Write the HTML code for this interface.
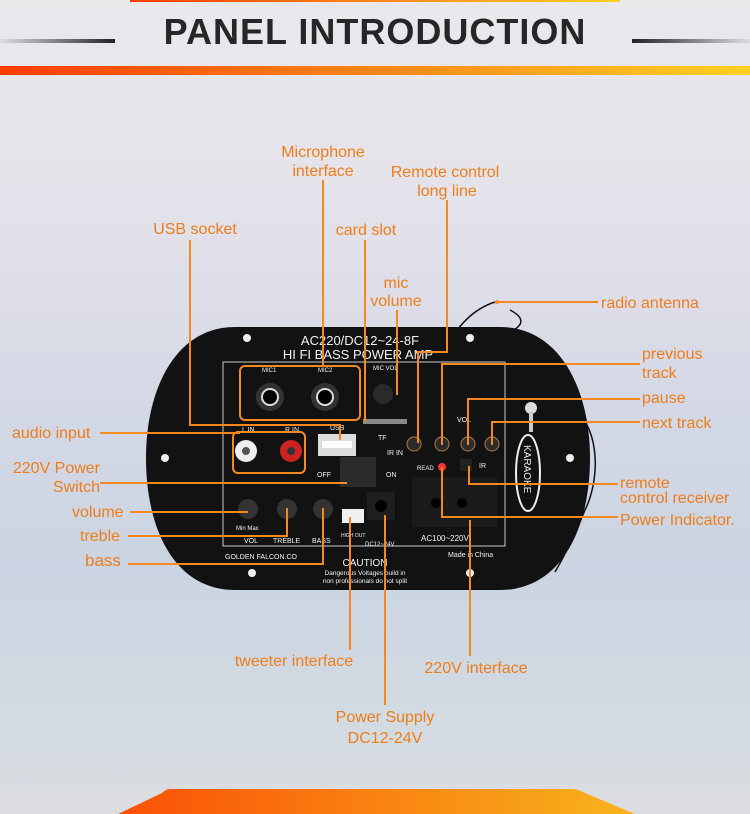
<!DOCTYPE html>
<html><head><meta charset="utf-8"><style>
html,body{margin:0;padding:0;}
body{width:750px;height:814px;overflow:hidden;position:relative;font-family:"Liberation Sans",sans-serif;
background:linear-gradient(180deg,#ebe8ec 0%,#e4e2ea 25%,#d4d8e6 50%,#cbd4e2 70%,#d3dbe2 90%,#dcdde0 100%);}
svg{position:absolute;left:0;top:0;}
.t{fill:#f07d1a;font-family:"Liberation Sans",sans-serif;font-size:16px;}
</style></head><body>
<svg width="750" height="814" viewBox="0 0 750 814">
<defs>
<linearGradient id="og" x1="0" x2="1"><stop offset="0" stop-color="#ff3c00"/><stop offset="0.5" stop-color="#f8861a"/><stop offset="1" stop-color="#fcd022"/></linearGradient>
<linearGradient id="ob" x1="0" x2="1"><stop offset="0" stop-color="#fb5006"/><stop offset="1" stop-color="#f8b41c"/></linearGradient>
<linearGradient id="ll" x1="0" x2="1"><stop offset="0" stop-color="#ddd"/><stop offset="1" stop-color="#222"/></linearGradient>
<linearGradient id="lr" x1="0" x2="1"><stop offset="0" stop-color="#222"/><stop offset="1" stop-color="#ddd"/></linearGradient>
</defs>
<rect x="130" y="0" width="490" height="2" fill="url(#og)"/>
<rect x="0" y="39" width="115" height="4" fill="url(#ll)"/>
<rect x="632" y="39" width="118" height="4" fill="url(#lr)"/>
<text x="375" y="44" text-anchor="middle" font-size="36" font-weight="bold" fill="#262626" font-family="Liberation Sans" letter-spacing="1">PANEL INTRODUCTION</text>
<rect x="0" y="66" width="750" height="9" fill="url(#og)"/>
<text x="10" y="778" font-size="30" fill="#d6dde2" font-family="Liberation Serif">golden falcon.co</text>
<path d="M170 789 L572 789 Q578 789 585 793 L635 814 L118 814 L162 793 Q166 789 170 789Z" fill="url(#ob)"/>

<path d="M495 302 C470 310 455 330 445 350 C440 360 470 340 500 335 C520 330 530 320 510 310" fill="none" stroke="#111" stroke-width="1.5"/>
<path d="M575 410 C600 430 600 480 585 510 C575 535 562 560 555 572" fill="none" stroke="#111" stroke-width="1.5"/>
<path d="M235 327 L500 327 C560 327 590 390 590 458 C590 530 560 590 500 590 L235 590 C175 590 146 530 146 458 C146 390 175 327 235 327Z" fill="#121212"/>
<rect x="223" y="362" width="282" height="184" fill="none" stroke="#ccc" stroke-width="1"/>
<g fill="#f2f2f2" font-family="Liberation Sans">
<text x="360" y="345" text-anchor="middle" font-size="13">AC220/DC12~24-8F</text>
<text x="358" y="359" text-anchor="middle" font-size="13">HI FI BASS POWER AMP</text>
<text x="262" y="372" font-size="6">MIC1</text><text x="318" y="372" font-size="6">MIC2</text>
<text x="373" y="370" font-size="6">MIC VOL</text>
<text x="242" y="432" font-size="7">L IN</text><text x="285" y="432" font-size="7">R IN</text><text x="330" y="430" font-size="7">USB</text>
<text x="378" y="440" font-size="7">TF</text><text x="387" y="455" font-size="7">IR IN</text>
<text x="317" y="477" font-size="7">OFF</text><text x="386" y="477" font-size="7">ON</text>
<text x="417" y="470" font-size="6">READ</text><text x="479" y="468" font-size="7">IR</text>
<text x="457" y="422" font-size="7">VOL</text>
<text x="236" y="530" font-size="6">Min  Max</text>
<text x="244" y="543" font-size="7">VOL</text><text x="273" y="543" font-size="7">TREBLE</text><text x="312" y="543" font-size="7">BASS</text>
<text x="341" y="537" font-size="5">HIGH OUT</text><text x="365" y="546" font-size="6">DC12~24V</text>
<text x="421" y="541" font-size="8">AC100~220V</text>
<text x="448" y="557" font-size="7">Made in China</text>
<text x="225" y="559" font-size="7">GOLDEN FALCON.CO</text>
<text x="365" y="566" text-anchor="middle" font-size="10">CAUTION</text>
<text x="365" y="575" text-anchor="middle" font-size="6.5">Dangerous Voltages build in</text>
<text x="365" y="583" text-anchor="middle" font-size="6.5">non professionals do not split</text>
</g>
<g fill="#eee">
<circle cx="247" cy="338" r="4"/><circle cx="470" cy="338" r="4"/><circle cx="165" cy="458" r="4"/><circle cx="570" cy="458" r="4"/><circle cx="252" cy="573" r="4"/><circle cx="470" cy="573" r="4"/>
</g>
<circle cx="270" cy="397" r="14" fill="#333"/><circle cx="270" cy="397" r="9" fill="#ddd"/><circle cx="270" cy="397" r="7" fill="#000"/>
<circle cx="325" cy="397" r="14" fill="#333"/><circle cx="325" cy="397" r="9" fill="#ddd"/><circle cx="325" cy="397" r="7" fill="#000"/>
<circle cx="246" cy="451" r="11" fill="#eee"/><circle cx="246" cy="451" r="4" fill="#555"/>
<circle cx="291" cy="451" r="11" fill="#c22"/><circle cx="291" cy="451" r="4" fill="#333"/>
<rect x="318" y="434" width="38" height="22" fill="#ddd"/><rect x="322" y="441" width="30" height="7" fill="#fff"/>
<rect x="340" y="457" width="36" height="30" fill="#2a2a2a"/>
<circle cx="383" cy="394" r="10" fill="#2a2a2a"/>
<rect x="363" y="419" width="44" height="5" fill="#888"/>
<rect x="412" y="477" width="85" height="50" fill="#1b1b1b"/><circle cx="436" cy="503" r="5" fill="#000"/><circle cx="462" cy="503" r="5" fill="#000"/>
<rect x="367" y="492" width="28" height="28" fill="#1e1e1e"/><circle cx="381" cy="506" r="6" fill="#000"/>
<rect x="342" y="509" width="22" height="14" fill="#f0f0f0"/>
<circle cx="248" cy="509" r="10" fill="#333"/><circle cx="287" cy="509" r="10" fill="#333"/><circle cx="323" cy="509" r="10" fill="#333"/>
<g fill="#2b2b2b" stroke="#b87a3a" stroke-width="1"><circle cx="414" cy="444" r="7"/><circle cx="442" cy="444" r="7"/><circle cx="468" cy="444" r="7"/><circle cx="492" cy="444" r="7"/></g>
<circle cx="442" cy="467" r="4" fill="#f33"/><rect x="460" y="459" width="12" height="12" fill="#222"/>
<ellipse cx="528" cy="473" rx="12" ry="38" fill="none" stroke="#eee" stroke-width="2"/>
<text x="0" y="0" transform="translate(524,445) rotate(90)" fill="#eee" font-size="10">KARAOKE</text>
<circle cx="531" cy="408" r="6" fill="#ddd"/><rect x="529" y="412" width="4" height="20" fill="#ccc"/>

<g stroke="#f5891f" stroke-width="2" fill="none">
<rect x="240" y="366" width="120" height="54" rx="5"/>
<rect x="233" y="432" width="72" height="41" rx="5"/>
<polyline points="190,240 190,425 340,425 340,440"/>
<line x1="323" y1="180" x2="323" y2="366"/>
<line x1="365" y1="240" x2="365" y2="422"/>
<line x1="397" y1="310" x2="397" y2="395"/>
<polyline points="447,200 447,352 418,352 418,443"/>
<line x1="497" y1="302" x2="598" y2="302"/>
<polyline points="640,364 442,364 442,445"/>
<polyline points="640,399 468,399 468,445"/>
<polyline points="640,422 492,422 492,445"/>
<polyline points="618,484 469,484 469,466"/>
<polyline points="618,517 442,517 442,467"/>
<line x1="100" y1="433" x2="240" y2="433"/>
<line x1="100" y1="483" x2="347" y2="483"/>
<line x1="130" y1="512" x2="248" y2="512"/>
<polyline points="128,536 287,536 287,508"/>
<polyline points="128,564 323,564 323,508"/>
<line x1="350" y1="517" x2="350" y2="650"/>
<line x1="385" y1="515" x2="385" y2="705"/>
<line x1="470" y1="520" x2="470" y2="656"/>
</g>
<circle cx="497" cy="302" r="2" fill="#f5891f"/>

<g class="t">
<text x="323" y="157" text-anchor="middle" class="t">Microphone</text>
<text x="323" y="176" text-anchor="middle" class="t">interface</text>
<text x="445" y="177" text-anchor="middle" class="t">Remote control</text>
<text x="447" y="196" text-anchor="middle" class="t">long line</text>
<text x="195" y="234" text-anchor="middle" class="t">USB socket</text>
<text x="366" y="235" text-anchor="middle" class="t">card slot</text>
<text x="396" y="288" text-anchor="middle" class="t">mic</text>
<text x="396" y="306" text-anchor="middle" class="t">volume</text>
<text x="601" y="308" class="t">radio antenna</text>
<text x="642" y="359" class="t">previous</text>
<text x="642" y="378" class="t">track</text>
<text x="642" y="403" class="t">pause</text>
<text x="642" y="428" class="t">next track</text>
<text x="620" y="488" class="t">remote</text>
<text x="620" y="503" class="t">control receiver</text>
<text x="620" y="525" class="t">Power Indicator.</text>
<text x="12" y="438" class="t">audio input</text>
<text x="100" y="473" text-anchor="end" class="t">220V Power</text>
<text x="100" y="492" text-anchor="end" class="t">Switch</text>
<text x="72" y="517" class="t">volume</text>
<text x="80" y="541" class="t">treble</text>
<text x="85" y="566" class="t" style="font-size:17px">bass</text>
<text x="294" y="666" text-anchor="middle" class="t">tweeter interface</text>
<text x="476" y="673" text-anchor="middle" class="t">220V interface</text>
<text x="385" y="722" text-anchor="middle" class="t">Power Supply</text>
<text x="385" y="743" text-anchor="middle" class="t">DC12-24V</text>
</g>
</svg>
</body></html>
